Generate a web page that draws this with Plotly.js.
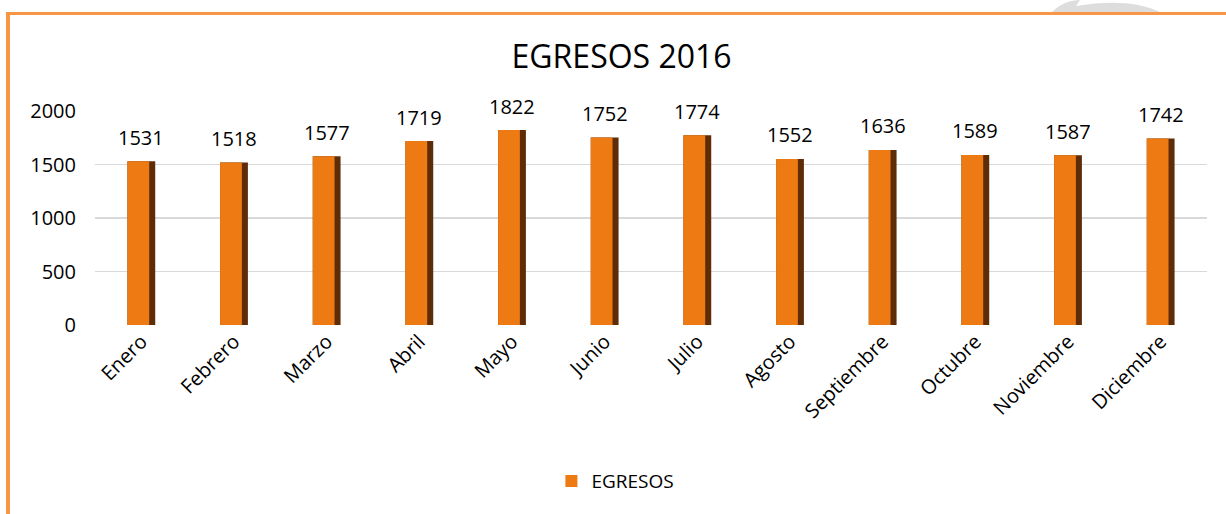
<!DOCTYPE html>
<html>
<head>
<meta charset="utf-8">
<script src="https://cdn.plot.ly/plotly-3.0.1.min.js"></script>
<style>
  html, body { margin: 0; padding: 0; background: #ffffff; }
  #wrap { position: relative; width: 1226px; height: 514px; overflow: hidden; }
  #chart { position: absolute; left: 0; top: 0; width: 1226px; height: 514px; }
  #bTop { position: absolute; left: 6px; top: 12px; width: 1220px; height: 3px; background: #F79646; }
  #bLeft { position: absolute; left: 6px; top: 12px; width: 4px; height: 502px; background: #F79646; }
  #wm { position: absolute; left: 1040px; top: 0px; }
</style>
</head>
<body>
<div id="wrap">
  <svg id="wm" width="186" height="12"><path d="M12,12 C20,4 30,0 40,0 L36,6 C70,0 100,2 120,12 Z" fill="#DDDDDD"/></svg>
  <div id="chart"></div>
  <div id="bTop"></div>
  <div id="bLeft"></div>
</div>
<script>
const months = ["Enero","Febrero","Marzo","Abril","Mayo","Junio","Julio","Agosto","Septiembre","Octubre","Noviembre","Diciembre"];
const egresos = [1531,1518,1577,1719,1822,1752,1774,1552,1636,1589,1587,1742];
const yTicks = [0,500,1000,1500,2000];

const FONT = '"Open Sans", "Noto Sans", sans-serif';

const traces = [
  {
    type: 'bar', x: months, y: egresos, width: 0.30,
    marker: { color: '#5E2C06', line: { width: 0 } },
    showlegend: false, hoverinfo: 'skip'
  },
  {
    type: 'bar', x: months, y: egresos, width: 0.235, offset: -0.15,
    name: 'EGRESOS',
    marker: { color: '#EE7A14', line: { width: 0 } },
    showlegend: true
  }
];

const annotations = months.map((m, i) => ({
  x: m, y: egresos[i], text: String(egresos[i]),
  showarrow: false, yanchor: 'middle', yshift: 24,
  font: { family: FONT, size: 20, color: '#000000' }
}));

const layout = {
  width: 1226, height: 514,
  margin: { l: 95, r: 19, t: 111, b: 189 },
  paper_bgcolor: 'rgba(0,0,0,0)', plot_bgcolor: 'rgba(0,0,0,0)',
  barmode: 'overlay',
  title: { text: 'EGRESOS 2016', x: 0.507, xanchor: 'center', y: 0.89, yanchor: 'middle',
           font: { family: FONT, size: 32, color: '#000000' } },
  xaxis: {
    type: 'category', tickangle: -45, showgrid: false, zeroline: false,
    showline: false, ticks: '',
    tickfont: { family: FONT, size: 20, color: '#000000' }
  },
  yaxis: {
    range: [0, 2000], tickvals: yTicks, ticktext: yTicks.map(String),
    showgrid: true, gridcolor: '#D9D9D9', gridwidth: 1.5, zeroline: false,
    showline: false, ticks: '', ticklabelstandoff: 18,
    tickfont: { family: FONT, size: 20, color: '#000000' }
  },
  legend: { orientation: 'h', x: 0.468, xanchor: 'center', y: -0.73, yanchor: 'middle',
            font: { family: FONT, size: 19, color: '#000000' } },
  annotations: annotations,
  showlegend: true
};

Plotly.newPlot('chart', traces, layout, { displayModeBar: false, staticPlot: true });
</script>
</body>
</html>
